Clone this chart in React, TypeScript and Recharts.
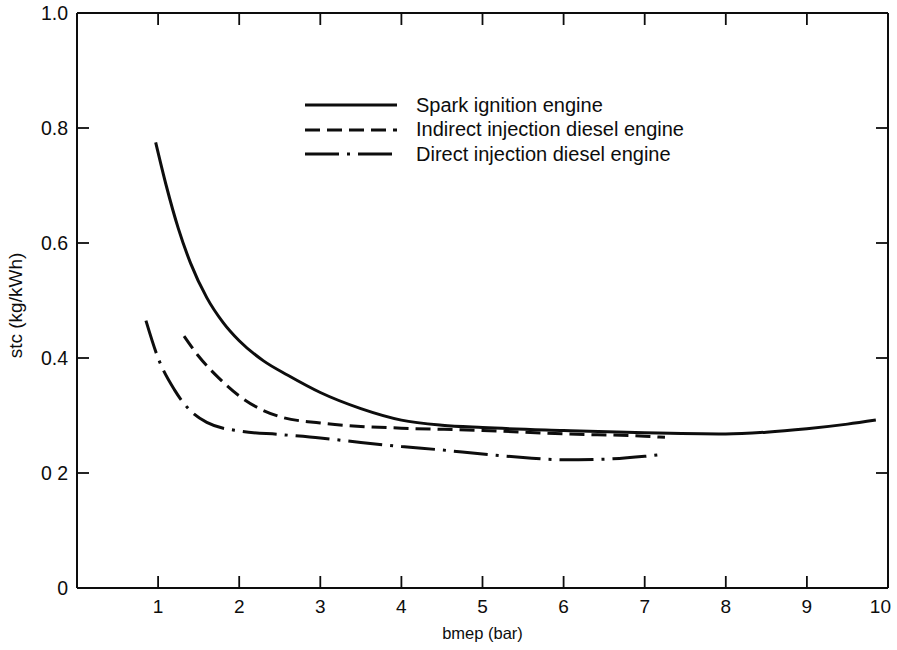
import { LineChart, Line, XAxis, YAxis, Legend } from "recharts";

// bmep (bar) / stc (kg/kWh)
const sparkBmep = [0.97, 1.1, 1.25, 1.4, 1.6, 1.8, 2.0, 2.3, 2.6, 3.0, 3.5, 4.0, 4.5, 5.0, 6.0, 7.0, 8.0, 8.5, 9.0, 9.5, 9.85];
const sparkStc = [0.775, 0.7, 0.625, 0.565, 0.505, 0.462, 0.43, 0.395, 0.37, 0.34, 0.312, 0.292, 0.283, 0.279, 0.274, 0.27, 0.268, 0.271, 0.277, 0.285, 0.292];

const indirectBmep = [1.32, 1.5, 1.75, 2.0, 2.25, 2.5, 3.0, 3.5, 4.0, 5.0, 6.0, 7.0, 7.25];
const indirectStc = [0.438, 0.403, 0.365, 0.334, 0.312, 0.298, 0.287, 0.281, 0.278, 0.274, 0.268, 0.264, 0.262];

const directBmep = [0.85, 1.0, 1.2, 1.4, 1.6, 2.0, 2.5, 3.0, 3.5, 4.0, 4.5, 5.0, 5.5, 6.0, 6.5, 7.0, 7.25];
const directStc = [0.465, 0.4, 0.345, 0.308, 0.288, 0.273, 0.267, 0.261, 0.253, 0.246, 0.24, 0.233, 0.227, 0.223, 0.224, 0.229, 0.233];

const xTicks = [1, 2, 3, 4, 5, 6, 7, 8, 9, 10];
const yTicks = [0, 0.2, 0.4, 0.6, 0.8, 1.0];
const yTickLabels = ["0", "0 2", "0.4", "0.6", "0.8", "1.0"];

const seriesNames = [
  "Spark ignition engine",
  "Indirect injection diesel engine",
  "Direct injection diesel engine",
];

const DASHES: Record<string, string | undefined> = {
  "Spark ignition engine": undefined,
  "Indirect injection diesel engine": "15 7",
  "Direct injection diesel engine": "34 8 3 8",
};

const INK = "#0d0d0d";
const FONT = "'Liberation Sans', Arial, sans-serif";

const toPoints = (xs: number[], ys: number[]) => xs.map((x, i) => ({ bmep: x, stc: ys[i] }));

const BottomTick = ({ x, y, payload }: any) => {
  // last label sits against the right edge, so it is right-aligned
  const last = payload.value === xTicks[xTicks.length - 1];
  return (
    <g>
      <line x1={x} y1={y} x2={x} y2={y - 12} stroke={INK} strokeWidth={1.8} />
      <text
        x={last ? x + 3 : x}
        y={y + 25}
        textAnchor={last ? "end" : "middle"}
        fontSize={19}
        fill={INK}
        fontFamily={FONT}
      >
        {payload.value}
      </text>
    </g>
  );
};

const TopTick = ({ x, y, payload }: any) =>
  payload.value >= 10 ? <g /> : <line x1={x} y1={y} x2={x} y2={y + 12} stroke={INK} strokeWidth={1.8} />;

const LeftTick = ({ x, y, payload }: any) => {
  const idx = yTicks.indexOf(payload.value);
  return (
    <g>
      {payload.value > 0 && payload.value < 1 && (
        <line x1={x} y1={y} x2={x + 12} y2={y} stroke={INK} strokeWidth={1.8} />
      )}
      <text x={x - 9} y={y} dy="0.36em" textAnchor="end" fontSize={19.5} fill={INK} fontFamily={FONT}>
        {yTickLabels[idx]}
      </text>
    </g>
  );
};

const RightTick = ({ x, y, payload }: any) =>
  payload.value > 0 && payload.value < 1 ? (
    <line x1={x} y1={y} x2={x - 12} y2={y} stroke={INK} strokeWidth={1.8} />
  ) : (
    <g />
  );

const LegendBox = () => (
  <div>
    {seriesNames.map((name) => (
      <div key={name} style={{ display: "flex", alignItems: "center", height: 24.5 }}>
        <svg width={94} height={10} style={{ marginRight: 18 }}>
          <line x1={1} y1={5} x2={93} y2={5} stroke={INK} strokeWidth={3} strokeDasharray={DASHES[name]} />
        </svg>
        <span style={{ fontFamily: FONT, fontSize: 20, color: INK, whiteSpace: "nowrap" }}>{name}</span>
      </div>
    ))}
  </div>
);

const App = () => {
  return (
    <div style={{ position: "absolute", left: 0, top: 0, background: "#fff" }}>
      <LineChart width={897} height={650} margin={{ top: 12, right: 8, bottom: 0, left: 0 }}>
        <XAxis
          xAxisId="bottom"
          dataKey="bmep"
          type="number"
          domain={[0, 10]}
          ticks={xTicks}
          allowDataOverflow
          height={62}
          tickSize={0}
          tickMargin={0}
          tickLine={false}
          axisLine={{ stroke: INK, strokeWidth: 2 }}
          tick={<BottomTick />}
          label={{ value: "bmep (bar)", position: "insideBottom", offset: 11, fontSize: 16.5, fill: INK, fontFamily: FONT }}
        />
        <XAxis
          xAxisId="top"
          orientation="top"
          dataKey="bmep"
          type="number"
          domain={[0, 10]}
          ticks={xTicks}
          allowDataOverflow
          height={1}
          tickSize={0}
          tickMargin={0}
          tickLine={false}
          axisLine={{ stroke: INK, strokeWidth: 2 }}
          tick={<TopTick />}
        />
        <YAxis
          yAxisId="left"
          type="number"
          domain={[0, 1]}
          ticks={yTicks}
          allowDataOverflow
          width={77}
          tickSize={0}
          tickMargin={0}
          tickLine={false}
          axisLine={{ stroke: INK, strokeWidth: 2 }}
          tick={<LeftTick />}
          label={{
            value: "stc (kg/kWh)",
            angle: -90,
            position: "insideLeft",
            offset: 15,
            dy: 5,
            fontSize: 19,
            fill: INK,
            fontFamily: FONT,
            style: { textAnchor: "middle" },
          }}
        />
        <YAxis
          yAxisId="right"
          orientation="right"
          type="number"
          domain={[0, 1]}
          ticks={yTicks}
          allowDataOverflow
          width={1}
          tickSize={0}
          tickMargin={0}
          tickLine={false}
          axisLine={{ stroke: INK, strokeWidth: 2 }}
          tick={<RightTick />}
        />
        <Legend
          layout="vertical"
          align="center"
          verticalAlign="middle"
          content={<LegendBox />}
          wrapperStyle={{ position: "absolute", left: 304, top: 93, width: 440 }}
        />
        <Line
          xAxisId="bottom"
          yAxisId="left"
          data={toPoints(sparkBmep, sparkStc)}
          dataKey="stc"
          name={seriesNames[0]}
          type="monotone"
          stroke={INK}
          strokeWidth={3}
          dot={false}
          isAnimationActive={false}
        />
        <Line
          xAxisId="bottom"
          yAxisId="left"
          data={toPoints(indirectBmep, indirectStc)}
          dataKey="stc"
          name={seriesNames[1]}
          type="monotone"
          stroke={INK}
          strokeWidth={3}
          strokeDasharray={DASHES[seriesNames[1]]}
          dot={false}
          isAnimationActive={false}
        />
        <Line
          xAxisId="bottom"
          yAxisId="left"
          data={toPoints(directBmep, directStc)}
          dataKey="stc"
          name={seriesNames[2]}
          type="monotone"
          stroke={INK}
          strokeWidth={3}
          strokeDasharray={DASHES[seriesNames[2]]}
          dot={false}
          isAnimationActive={false}
        />
      </LineChart>
    </div>
  );
};

export default App;
